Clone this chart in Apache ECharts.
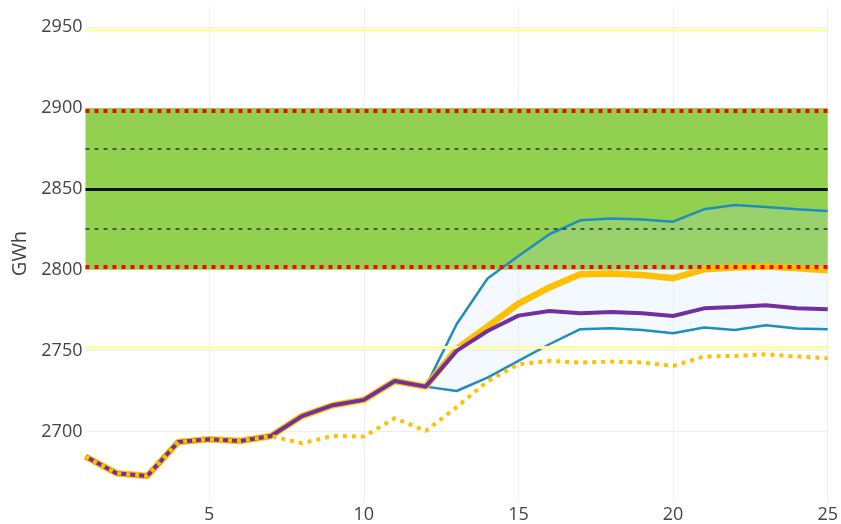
<!DOCTYPE html>
<html><head><meta charset="utf-8">
<script src="https://cdn.jsdelivr.net/npm/echarts@6/dist/echarts.min.js"></script>
<style>html,body{margin:0;padding:0;background:#fff}#c{width:841px;height:524px}</style>
</head><body><div id="c"></div>
<script>
const days = ['1','2','3','4','5','6','7','8','9','10','11','12','13','14','15','16','17','18','19','20','21','22','23','24','25'];
const xTicks = [5, 10, 15, 20, 25];
const yTicks = [2700, 2750, 2800, 2850, 2900, 2950];

// orange thick line
const forecast = [2684.5, 2674.2, 2672.5, 2693.5, 2695.2, 2694.1, 2697.2, 2709.5, 2716.2, 2719.5, 2731.2, 2727.7,
  2751.0, 2764.8, 2779.0, 2789.0, 2797.2, 2797.6, 2796.7, 2794.7, 2800.2, 2801.3, 2801.9, 2800.9, 2799.6];
// purple line
const scenario = [2684.5, 2674.2, 2672.5, 2693.5, 2695.2, 2694.1, 2697.2, 2709.5, 2716.2, 2719.5, 2731.2, 2727.7,
  2749.8, 2762.1, 2771.6, 2774.5, 2773.0, 2773.9, 2773.0, 2771.4, 2776.1, 2777.0, 2778.0, 2776.1, 2775.5];
// orange dotted line
const lastYear = [2684.5, 2674.2, 2672.5, 2693.5, 2695.2, 2694.1, 2697.2, 2692.7, 2697.2, 2696.8, 2708.2, 2700.3,
  2715.0, 2731.0, 2741.5, 2743.6, 2742.6, 2743.2, 2742.6, 2740.5, 2746.3, 2746.7, 2747.7, 2746.3, 2745.2];
// blue band
const bandUpper = ['-','-','-','-','-','-','-','-','-','-','-', 2727.7,
  2766.3, 2794.5, 2808.5, 2821.9, 2830.5, 2831.6, 2831.0, 2829.7, 2837.3, 2840.0, 2838.8, 2837.3, 2836.3];
const bandLower = ['-','-','-','-','-','-','-','-','-','-','-', 2727.7,
  2725.0, 2733.3, 2743.6, 2753.9, 2763.2, 2763.8, 2762.7, 2760.7, 2764.2, 2762.7, 2765.6, 2763.6, 2763.2];

const targetLine = 2850;
const innerDashed = [2825, 2875];
const redLimits = [2802, 2898];
const yellowLimits = [2752, 2948];
const greenBand = [2800, 2900];

const bandDiff = bandUpper.map((u, i) => (u === '-' ? '-' : +(u - bandLower[i]).toFixed(2)));
const font = "'Open Sans', sans-serif";
const isXTick = (idx, val) => xTicks.indexOf(+val) >= 0;

const chart = echarts.init(document.getElementById('c'), null, {renderer: 'canvas'});
chart.setOption({
  animation: false,
  backgroundColor: '#fff',
  grid: {left: 85.5, right: 12.7, top: 6, bottom: 22.3, containLabel: false},
  xAxis: {
    type: 'category', data: days, boundaryGap: false,
    axisLine: {show: false}, axisTick: {show: false},
    axisLabel: {interval: isXTick, color: '#444', fontSize: 18, fontFamily: font, margin: 5},
    splitLine: {show: true, interval: isXTick, lineStyle: {color: '#eee', width: 1}}
  },
  yAxis: {
    type: 'value', min: 2657, max: 2963,
    name: 'GWh', nameLocation: 'middle', nameGap: 52, nameRotate: 90,
    nameTextStyle: {color: '#444', fontSize: 20, fontFamily: font},
    axisLine: {show: false},
    axisTick: {show: false, customValues: yTicks},
    axisLabel: {customValues: yTicks, formatter: v => String(v), color: '#444', fontSize: 18, fontFamily: font, margin: 3},
    splitLine: {show: true, lineStyle: {color: '#eee', width: 1}}
  },
  series: [
    {
      name: 'ref', type: 'line', data: [], z: 1, silent: true,
      markArea: {silent: true, itemStyle: {color: '#92D050'},
        data: [[{yAxis: greenBand[0]}, {yAxis: greenBand[1]}]]},
      markLine: {silent: true, symbol: 'none', label: {show: false},
        data: [
          {yAxis: yellowLimits[0], lineStyle: {color: '#FFFFA0', width: 3, type: 'solid'}},
          {yAxis: yellowLimits[1], lineStyle: {color: '#FFFFA0', width: 3, type: 'solid'}},
          {yAxis: targetLine, lineStyle: {color: '#111', width: 3, type: 'solid'}},
          {yAxis: innerDashed[0], lineStyle: {color: '#333', width: 1.5, type: [4, 5]}},
          {yAxis: innerDashed[1], lineStyle: {color: '#333', width: 1.5, type: [4, 5]}}
        ]}
    },
    {
      name: 'bandBase', type: 'line', data: bandLower, stack: 'band', symbol: 'none', z: 2,
      lineStyle: {opacity: 0}, silent: true
    },
    {
      name: 'band', type: 'line', data: bandDiff, stack: 'band', symbol: 'none', z: 2,
      lineStyle: {opacity: 0}, areaStyle: {color: 'rgba(185,222,250,0.25)'}, silent: true
    },
    {
      name: 'upper', type: 'line', data: bandUpper, symbol: 'none', z: 3,
      lineStyle: {color: '#1F8EBF', width: 2.5}
    },
    {
      name: 'lower', type: 'line', data: bandLower, symbol: 'none', z: 3,
      lineStyle: {color: '#1F8EBF', width: 2.5}
    },
    {
      name: 'forecast', type: 'line', data: forecast, symbol: 'none', z: 4,
      lineStyle: {color: '#FFC000', width: 6.5}
    },
    {
      name: 'scenario', type: 'line', data: scenario, symbol: 'none', z: 5,
      lineStyle: {color: '#7030A0', width: 4}
    },
    {
      name: 'lastYear', type: 'line', data: lastYear, symbol: 'none', z: 6,
      lineStyle: {color: '#FFC000', width: 4, type: [4, 5], cap: 'butt'}
    },
    {
      name: 'limits', type: 'line', data: [], z: 7, silent: true,
      markLine: {silent: true, symbol: 'none', label: {show: false},
        data: [
          {yAxis: redLimits[0], lineStyle: {color: '#FF0000', width: 4, type: [4, 5]}},
          {yAxis: redLimits[1], lineStyle: {color: '#FF0000', width: 4, type: [4, 5]}}
        ]}
    }
  ]
});
</script>
</body></html>
